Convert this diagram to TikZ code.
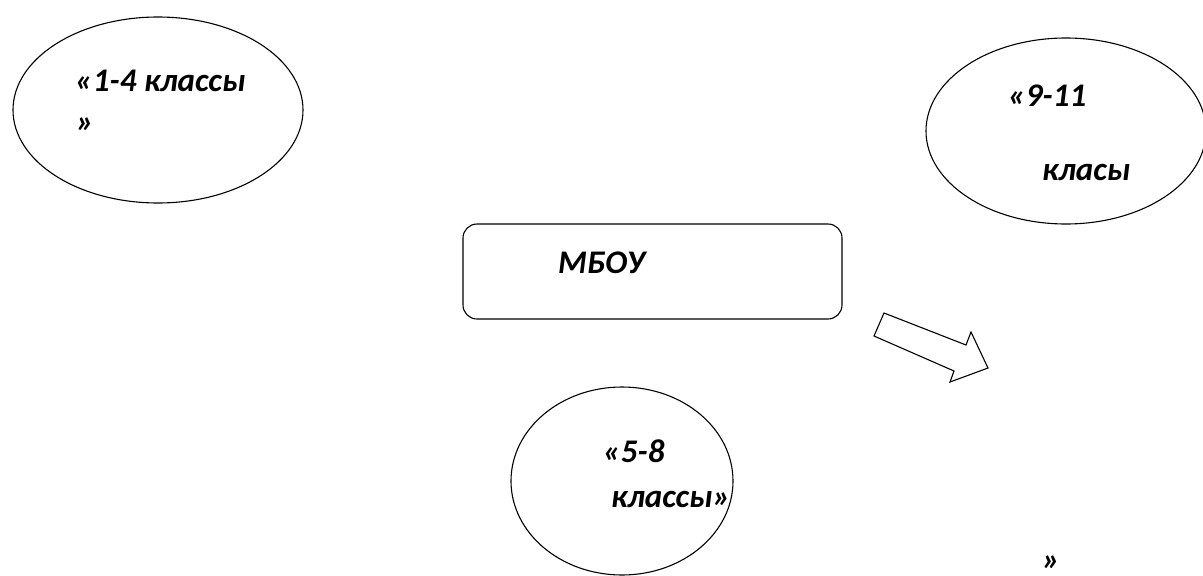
\documentclass[tikz,border=0pt]{standalone}
\usepackage{fontspec}
\setmainfont{Carlito}
\usetikzlibrary{shapes.geometric}
\tikzset{
  shp/.style={draw=black, line width=1.1pt},
  ell/.style={shp, ellipse, inner sep=0pt},
  lbl/.style={anchor=base west, inner sep=0pt, font=\fontsize{33}{35}\selectfont\bfseries\itshape}
}
\begin{document}
\begin{tikzpicture}[x=1pt,y=-1pt]
\useasboundingbox (0,0) rectangle (1203,576);
\fill[white] (0,0) rectangle (1203,576);
% ellipses
\node[ell, minimum width=290, minimum height=186] (e1) at (158,110) {};
\node[ell, minimum width=280, minimum height=186] (e2) at (1066,131) {};
\node[ell, minimum width=222, minimum height=188] (e3) at (622,481) {};
% box
\draw[shp, rounded corners=14] (463,224) rectangle (842,319);
\node[inner sep=0pt] (box) at (652.5,271.5) {};
% block arrow
\draw[shp, line join=miter] (884,313) -- (966,345) -- (971,332) -- (988,368) -- (950,382) -- (954,371) -- (874,336) -- cycle;
% texts
\node[lbl] (t1a) at (75,91) {«1-4 классы};
\node[lbl] (t1b) at (76,132) {»};
\node[lbl] (t2a) at (1008,106) {«9-11};
\node[lbl] (t2b) at (1042,180) {класы};
\node[lbl] (t3a) at (603,462) {«5-8};
\node[lbl] (t3b) at (611,507) {классы»};
\node[lbl] (t4) at (558,273) {МБОУ};
\node[lbl] (t5) at (1042,570) {»};
\end{tikzpicture}
\end{document}
